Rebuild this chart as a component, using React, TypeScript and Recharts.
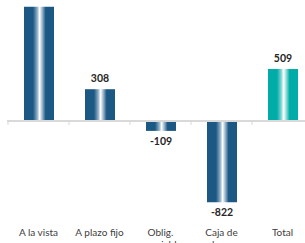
import { BarChart, Bar, XAxis, YAxis, Cell, LabelList, ReferenceLine } from "recharts";

const categories = ["A la vista", "A plazo fijo", "Oblig. negociables", "Caja de ahorro", "Total"];
const values = [1132, 308, -109, -822, 509];
const isTotal = [false, false, false, false, true];

const data = categories.map((name, i) => ({ name, value: values[i], total: isTotal[i] }));

const FONT = "Lato, 'Liberation Sans', sans-serif";

// rough word wrap like the spreadsheet did
const wrap = (text: string, max = 12) => {
  const lines: string[] = [];
  let cur = "";
  text.split(" ").forEach((w) => {
    const next = cur ? cur + " " + w : w;
    if (next.length > max && cur) {
      lines.push(cur);
      cur = w;
    } else {
      cur = next;
    }
  });
  if (cur) lines.push(cur);
  return lines;
};

const CategoryTick = (props: any) => {
  const { x, y, payload } = props;
  const lines = wrap(payload.value);
  return (
    <text x={x} y={y} textAnchor="middle" fill="#404040" fontSize={10} fontFamily={FONT}>
      {lines.map((l, i) => (
        <tspan key={i} x={x} dy={i === 0 ? 14 : 12}>
          {l}
        </tspan>
      ))}
    </text>
  );
};

const ValueLabel = (props: any) => {
  const { x, y, width, height, value } = props;
  const top = Math.min(y, y + height);
  const bottom = Math.max(y, y + height);
  const cx = x + width / 2;
  const ty = value >= 0 ? top - 7 : bottom + 14;
  return (
    <text x={cx} y={ty} textAnchor="middle" fill="#262626" fontSize={10.5} fontWeight="bold" fontFamily={FONT}>
      {value}
    </text>
  );
};

const ZeroAxis = (props: any) => {
  const { x1, y1, x2 } = props;
  const step = (x2 - x1) / categories.length;
  return (
    <g>
      <line x1={x1 - 1} y1={y1 + 1} x2={x2} y2={y1 + 1} stroke="#d9d9d9" strokeWidth={2} />
      {categories.map((_, i) => (
        <line key={i} x1={x1 + i * step} y1={y1 + 1} x2={x1 + i * step} y2={y1 + 5} stroke="#d9d9d9" strokeWidth={1} />
      ))}
    </g>
  );
};

export default function App() {
  return (
    <div style={{ position: "absolute", left: 0, top: 0, width: 305, height: 243, overflow: "hidden", background: "#fff" }}>
      <BarChart width={313} height={250} data={data} margin={{ top: 0, right: 0, left: 8, bottom: 0 }}>
        <defs>
          <linearGradient id="blueGrad" x1="0" y1="0" x2="1" y2="0">
            <stop offset="0" stopColor="#1b5883" />
            <stop offset="0.3" stopColor="#1b5883" />
            <stop offset="0.44" stopColor="#8fadc4" />
            <stop offset="0.52" stopColor="#ffffff" />
            <stop offset="0.6" stopColor="#a5bdd0" />
            <stop offset="0.72" stopColor="#1b5883" />
            <stop offset="1" stopColor="#1b5883" />
          </linearGradient>
          <linearGradient id="tealGrad" x1="0" y1="0" x2="1" y2="0">
            <stop offset="0" stopColor="#00aca7" />
            <stop offset="0.3" stopColor="#00aca7" />
            <stop offset="0.44" stopColor="#80d6d3" />
            <stop offset="0.52" stopColor="#ffffff" />
            <stop offset="0.6" stopColor="#9fe0dd" />
            <stop offset="0.72" stopColor="#00aca7" />
            <stop offset="1" stopColor="#00aca7" />
          </linearGradient>
        </defs>
        <XAxis dataKey="name" axisLine={false} tickLine={false} tickSize={0} height={30} interval={0} tick={<CategoryTick />} />
        <YAxis hide domain={[-1000, 1200]} />
        <ReferenceLine y={0} shape={<ZeroAxis />} />
        <Bar dataKey="value" barSize={30} isAnimationActive={false}>
          {data.map((d, i) => (
            <Cell key={i} fill={d.total ? "url(#tealGrad)" : "url(#blueGrad)"} />
          ))}
          <LabelList dataKey="value" content={<ValueLabel />} />
        </Bar>
      </BarChart>
    </div>
  );
}
